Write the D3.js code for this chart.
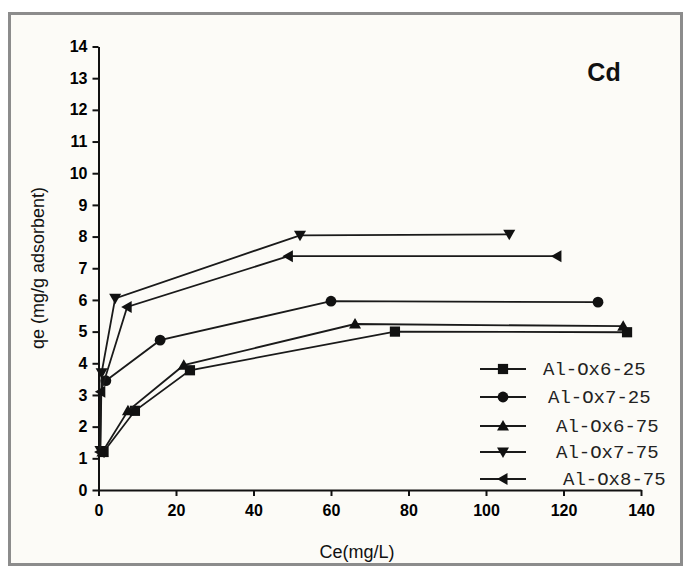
<!DOCTYPE html>
<html><head><meta charset="utf-8">
<script src="https://cdn.jsdelivr.net/npm/d3@7"></script>
<style>body{margin:0;background:#fff}svg{display:block}</style>
</head><body>
<svg id="c" width="688" height="571"></svg>
<script>
const seriesNames = ["Al-Ox6-25","Al-Ox7-25","Al-Ox6-75","Al-Ox7-75","Al-Ox8-75"];
const ox6_25 = [[1.3,1.2],[9.4,2.5],[23.6,3.78],[76.5,5.0],[136.4,4.98]];
const ox7_25 = [[1.9,3.45],[15.9,4.73],[60.0,5.96],[128.9,5.93]];
const ox6_75 = [[1.0,1.2],[7.6,2.5],[22.0,3.94],[66.2,5.24],[135.4,5.17]];
const ox7_75 = [[0.5,1.25],[0.8,3.7],[4.3,6.05],[52.0,8.04],[106.0,8.07]];
const ox8_75 = [[0.4,1.2],[0.6,3.1],[7.4,5.78],[49.0,7.38],[118.3,7.38]];
const xTicks = [0,20,40,60,80,100,120,140];
const yTicks = [0,1,2,3,4,5,6,7,8,9,10,11,12,13,14];
const symbols = ["square","circle","triUp","triDown","triLeft"];
const allSeries = [ox6_25, ox7_25, ox6_75, ox7_75, ox8_75];

const svg = d3.select("#c");
svg.append("rect").attr("x",9.5).attr("y",13.5).attr("width",672).attr("height",551)
  .attr("fill","#fcfbf7").attr("stroke","#8c8c8c").attr("stroke-width",3);

const x = d3.scaleLinear().domain([0,140]).range([98.5,641]);
const y = d3.scaleLinear().domain([0,14]).range([490,46.5]);

const xAxis = svg.append("g").attr("transform",`translate(0,${y(0)})`)
  .call(d3.axisBottom(x).tickValues(xTicks).tickSize(6).tickPadding(6).tickSizeOuter(0));
const yAxis = svg.append("g").attr("transform",`translate(${x(0)},0)`)
  .call(d3.axisLeft(y).tickValues(yTicks).tickSize(6).tickPadding(5).tickSizeOuter(0));
[xAxis,yAxis].forEach(a=>{
  a.select(".domain").attr("stroke","#111").attr("stroke-width",2);
  a.selectAll(".tick line").attr("stroke","#111").attr("stroke-width",2);
  a.selectAll(".tick text").attr("fill","#000").style("font-family","Liberation Sans, Arial, sans-serif")
   .style("font-weight","bold").style("font-size","16px");
});
xAxis.selectAll(".tick text").attr("dy","0.9em");

svg.append("text").attr("x",357).attr("y",558).attr("text-anchor","middle")
  .style("font-family","Liberation Sans, Arial, sans-serif").style("font-size","18px").attr("fill","#111")
  .text("Ce(mg/L)");
svg.append("text").attr("transform","translate(44,268) rotate(-90)").attr("text-anchor","middle")
  .style("font-family","Liberation Sans, Arial, sans-serif").style("font-size","18px").attr("fill","#111")
  .text("qe (mg/g adsorbent)");
svg.append("text").attr("x",604).attr("y",81).attr("text-anchor","middle")
  .style("font-family","Liberation Sans, Arial, sans-serif").style("font-size","25px").style("font-weight","bold")
  .attr("fill","#111").text("Cd");

function marker(g, type, cx, cy, s){
  const r = s/2;
  let p;
  if(type==="square") p = g.append("rect").attr("x",cx-r*0.85).attr("y",cy-r*0.85).attr("width",r*1.7).attr("height",r*1.7);
  else if(type==="circle") p = g.append("circle").attr("cx",cx).attr("cy",cy).attr("r",r*0.9);
  else {
    let pts;
    if(type==="triUp") pts=[[cx,cy-r],[cx+r,cy+r*0.75],[cx-r,cy+r*0.75]];
    else if(type==="triDown") pts=[[cx,cy+r],[cx+r,cy-r*0.75],[cx-r,cy-r*0.75]];
    else pts=[[cx-r,cy],[cx+r*0.75,cy-r],[cx+r*0.75,cy+r]];
    p = g.append("polygon").attr("points",pts.map(q=>q.join(",")).join(" "));
  }
  p.attr("fill","#111");
}

const line = d3.line().x(d=>x(d[0])).y(d=>y(d[1]));
allSeries.forEach((data,i)=>{
  const g = svg.append("g");
  g.append("path").attr("d",line(data)).attr("fill","none").attr("stroke","#1a1a1a").attr("stroke-width",1.8);
  data.forEach(d=>marker(g,symbols[i],x(d[0]),y(d[1]),12));
});

const legY = [369,397,426,452,479];
const legTX = [543,548,556,556,563];
seriesNames.forEach((n,i)=>{
  const g = svg.append("g");
  g.append("line").attr("x1",480).attr("x2",526).attr("y1",legY[i]).attr("y2",legY[i])
    .attr("stroke","#1a1a1a").attr("stroke-width",1.8);
  marker(g,symbols[i],503,legY[i],12);
  g.append("text").attr("x",legTX[i]).attr("y",legY[i]+6)
    .style("font-family","Liberation Mono, Courier New, monospace").style("font-size","19px")
    .attr("fill","#222").text(n);
});
</script>
</body></html>
